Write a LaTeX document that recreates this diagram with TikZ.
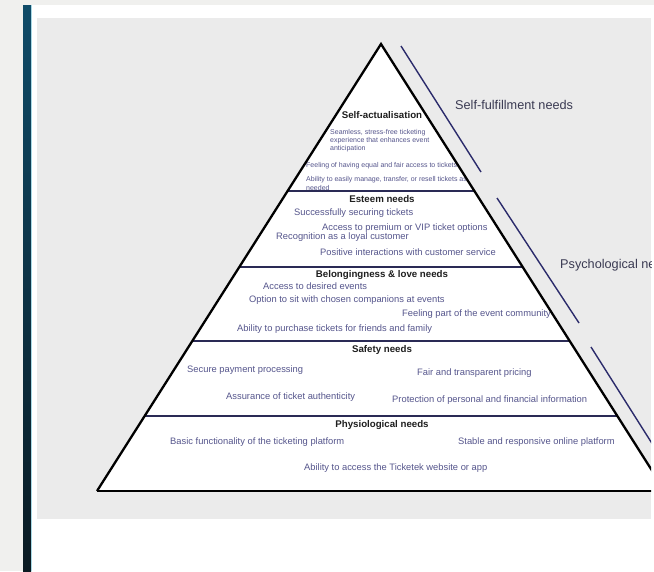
\documentclass[tikz,border=0pt]{standalone}
\usepackage{fontspec}
\setmainfont{Liberation Sans}
\usetikzlibrary{calc}
\definecolor{pagebg}{HTML}{F0F0EE}
\definecolor{panelc}{HTML}{EBEBEB}
\definecolor{bartop}{HTML}{0F4B68}
\definecolor{barbot}{HTML}{0A1A22}
\definecolor{barhl}{HTML}{A8D8E4}
\definecolor{itemc}{HTML}{55558C}
\definecolor{titlec}{HTML}{1E1E1E}
\definecolor{tierc}{HTML}{2A2A55}
\definecolor{sidec}{HTML}{2B2B6B}
\definecolor{labelc}{HTML}{3A3A52}
\begin{document}
\begin{tikzpicture}[x=1pt,y=-1pt,
  item/.style={font=\fontsize{9.35}{11}\selectfont, text=itemc, inner sep=0pt, anchor=west},
  smallitem/.style={font=\fontsize{7}{8.3}\selectfont, text=itemc, inner sep=0pt, anchor=west, align=left},
  tiertitle/.style={font=\bfseries\fontsize{9.7}{11}\selectfont, text=titlec, inner sep=0pt},
  sidelabel/.style={font=\fontsize{12.7}{14}\selectfont, text=labelc, inner sep=0pt, anchor=west},
  tierline/.style={draw=tierc, line width=1.8pt},
  pyredge/.style={draw=black, line width=2.3pt, line join=miter},
  bracket/.style={draw=sidec, line width=1.4pt}]
\useasboundingbox (0,0) rectangle (654,571);
\fill[pagebg] (0,0) rectangle (654,571);
\fill[white] (32,5) rectangle (654,571);
\shade[top color=bartop, bottom color=barbot] (23,5) rectangle (31,571);
\fill[barhl] (31,5) rectangle (32.2,571);
\begin{scope}
\clip (37,18) rectangle (651,519);
\fill[panelc] (37,18) rectangle (651,519);
\coordinate (apex) at (381,44);
\coordinate (bl) at (97,491);
\coordinate (br) at (665,491);
\fill[white] (apex) -- (bl) -- (br) -- cycle;
% tier boundaries
\foreach \t/\n in {0.3289/a,0.4989/b,0.6644/c,0.8322/d}{
  \coordinate (L\n) at ($(apex)!\t!(bl)$);
  \coordinate (R\n) at ($(apex)!\t!(br)$);
}
\draw[tierline] (La) -- (Ra);
\draw[tierline] (Lb) -- (Rb);
\draw[tierline] (Lc) -- (Rc);
\draw[tierline] (Ld) -- (Rd);
% Self-actualisation
\node[tiertitle] (t1) at (382,115) {Self-actualisation};
\node[smallitem, anchor=north west] (s1) at (330,129) {Seamless, stress-free ticketing\\experience that enhances event\\anticipation};
\node[smallitem] (s2) at (306,166) {Feeling of having equal and fair access to tickets};
\node[smallitem, anchor=north west] (s3) at (306,176.5) {Ability to easily manage, transfer, or resell tickets as\\needed};
% Esteem
\node[tiertitle] (t2) at (382,199) {Esteem needs};
\node[item] (e1) at (294,213) {Successfully securing tickets};
\node[item] (e2) at (322,228) {Access to premium or VIP ticket options};
\node[item] (e3) at (276,237) {Recognition as a loyal customer};
\node[item] (e4) at (320,252) {Positive interactions with customer service};
% Belonging
\node[tiertitle] (t3) at (382,275) {Belongingness \& love needs};
\node[item] (b1) at (263,286) {Access to desired events};
\node[item] (b2) at (249,300) {Option to sit with chosen companions at events};
\node[item] (b3) at (402,314) {Feeling part of the event community};
\node[item] (b4) at (237,329) {Ability to purchase tickets for friends and family};
% Safety
\node[tiertitle] (t4) at (382,350) {Safety needs};
\node[item] (f1) at (187,370) {Secure payment processing};
\node[item] (f2) at (417,373) {Fair and transparent pricing};
\node[item] (f3) at (226,397) {Assurance of ticket authenticity};
\node[item] (f4) at (392,400) {Protection of personal and financial information};
% Physiological
\node[tiertitle] (t5) at (382,425) {Physiological needs};
\node[item] (p1) at (170,442) {Basic functionality of the ticketing platform};
\node[item] (p2) at (458,442) {Stable and responsive online platform};
\node[item] (p3) at (304,468) {Ability to access the Ticketek website or app};
% pyramid outline
\draw[pyredge] (bl) -- (apex) -- (br);
\draw[black, line width=2.6pt] (bl) -- (br);
% side brackets
\coordinate (s1a) at (401,46);  \coordinate (s1b) at (481,172);
\coordinate (s2a) at (497,198); \coordinate (s2b) at (579,323);
\coordinate (s3a) at (591,347); \coordinate (s3b) at (665,464);
\draw[bracket] (s1a) -- (s1b);
\draw[bracket] (s2a) -- (s2b);
\draw[bracket] (s3a) -- (s3b);
\node[sidelabel] (l1) at (455,105) {Self-fulfillment needs};
\node[sidelabel] (l2) at (560,265) {Psychological needs};
\end{scope}
\end{tikzpicture}
\end{document}
